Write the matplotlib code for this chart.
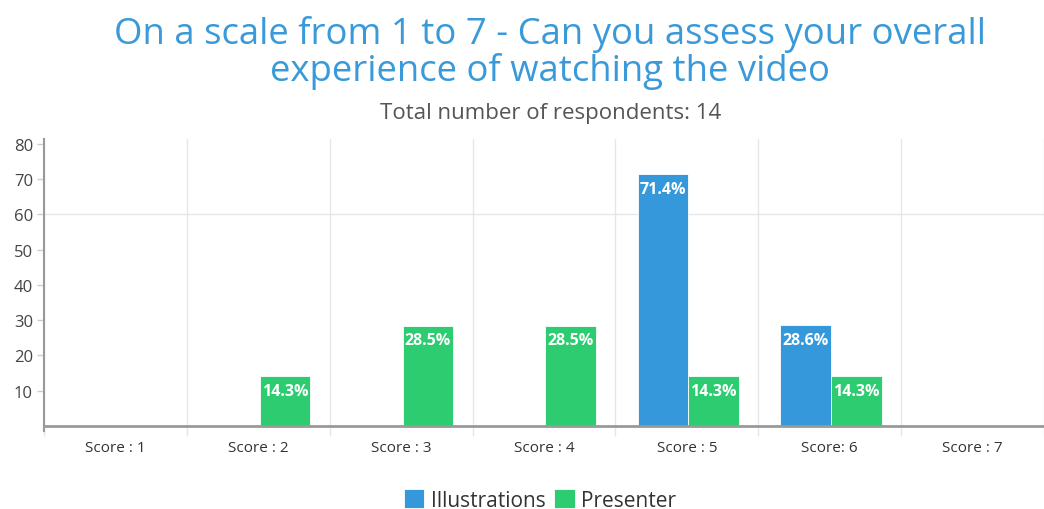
import matplotlib
matplotlib.use("Agg")
import matplotlib.pyplot as plt
import numpy as np

categories = ["Score : 1", "Score : 2", "Score : 3", "Score : 4", "Score : 5", "Score: 6", "Score : 7"]
illustrations = [0, 0, 0, 0, 71.4, 28.6, 0]
presenter = [0, 14.3, 28.5, 28.5, 14.3, 14.3, 0]
series_names = ["Illustrations", "Presenter"]
yticks = [10, 20, 30, 40, 50, 60, 70, 80]

plt.rcParams['font.family'] = ['Open Sans', 'DejaVu Sans']

BLUE = "#3498db"
GREEN = "#2ecc71"

fig = plt.figure(figsize=(10.44, 5.10), dpi=100)
ax = fig.add_axes([44/1044, 83/510, 1000/1044, 287/510])

x = np.arange(len(categories))
w = 0.355
b1 = ax.bar(x - w/2 + 0.01, illustrations, w, color=BLUE, edgecolor="white", linewidth=0.6, label=series_names[0], zorder=3)
b2 = ax.bar(x + w/2 + 0.01, presenter, w, color=GREEN, edgecolor="white", linewidth=0.6, label=series_names[1], zorder=3)

for bars, vals in ((b1, illustrations), (b2, presenter)):
    for r, v in zip(bars, vals):
        if v > 0:
            ax.annotate(f"{v:.1f}%", (r.get_x() + r.get_width()/2, v), xytext=(0, -5),
                        textcoords="offset points", ha="center", va="top",
                        color="white", fontsize=11.5, fontweight="bold", zorder=4)

ax.set_xlim(-0.5, len(categories) - 0.5)
ax.set_ylim(0, 81.4)
ax.set_xticks(x)
ax.set_xticklabels(categories, fontsize=11, color="#333333")
ax.set_xticks(np.arange(len(categories) + 1) - 0.5, minor=True)
ax.tick_params(axis="x", which="major", length=0, pad=10)
ax.tick_params(axis="x", which="minor", length=7, color="#e6e6e6", width=1)
ax.set_yticks(yticks)
ax.set_yticklabels([str(t) for t in yticks], fontsize=12, color="#444444")
ax.tick_params(axis="y", length=5, color="#cccccc", width=1, pad=3)

ax.grid(axis="x", which="minor", color="#e6e6e6", linewidth=1, zorder=0)
ax.axhline(60, color="#e6e6e6", linewidth=1, zorder=0)

for s in ("top", "right"):
    ax.spines[s].set_visible(False)
ax.spines["left"].set_color("#999999")
ax.spines["left"].set_linewidth(1.5)
ax.spines["left"].set_bounds(-1.5, 81.4)
ax.spines["bottom"].set_color("#999999")
ax.spines["bottom"].set_linewidth(2)
ax.spines["bottom"].set_zorder(5)
ax.spines["left"].set_zorder(5)

fig.text(0.527, 0.897, "On a scale from 1 to 7 - Can you assess your overall\nexperience of watching the video",
         ha="center", va="center", color="#3a9ad9", fontsize=26.3, linespacing=1.0)
fig.text(0.527, 0.778, "Total number of respondents: 14", ha="center", va="center",
         color="#555555", fontsize=16)

fig.legend(handles=[b1, b2], labels=series_names, loc="center", bbox_to_anchor=(0.517, 0.018),
           ncol=2, frameon=False, fontsize=15, handlelength=1.0, handleheight=1.0,
           handletextpad=0.3, columnspacing=0.4, labelcolor="#333333")

fig.savefig("out.png", dpi=100)
